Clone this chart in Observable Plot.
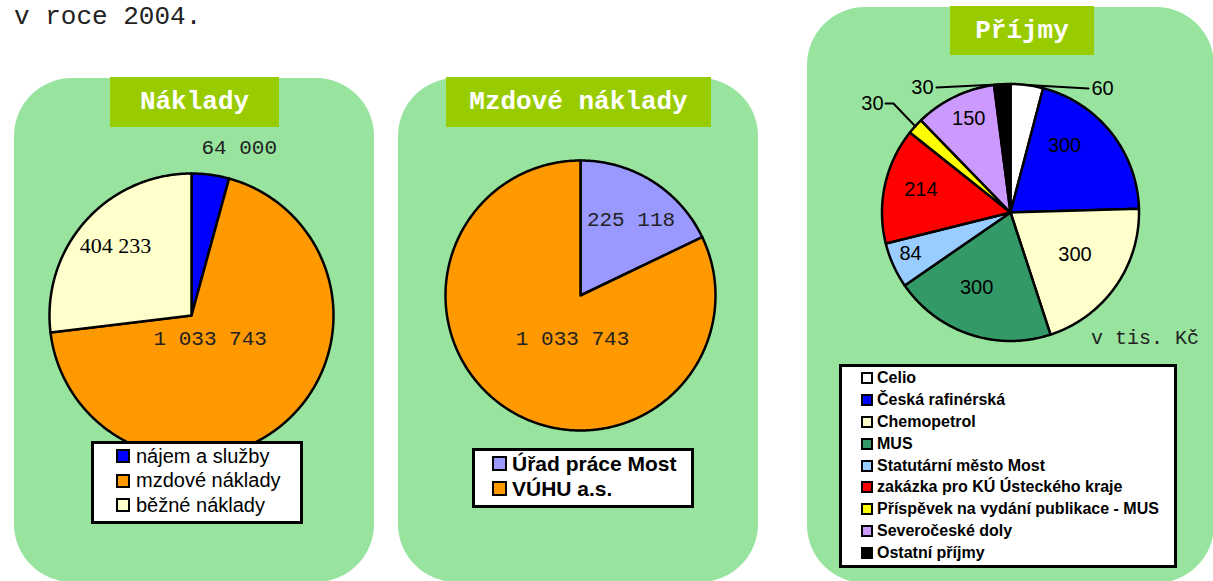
<!DOCTYPE html>
<html><head><meta charset="utf-8">
<script src="https://cdn.jsdelivr.net/npm/d3@7"></script>
<script src="https://cdn.jsdelivr.net/npm/@observablehq/plot@0.6"></script>
<style>
body{margin:0;background:#fff;}
#root{position:relative;width:1213px;height:581px;overflow:hidden;font-family:"Liberation Sans",Arial,sans-serif;}
.panel{position:absolute;background:#98E49F;border-radius:58px;}
.title{position:absolute;background:#99CC00;color:#fff;font:bold 26px "Liberation Mono",monospace;display:flex;align-items:center;justify-content:center;}
.legend{position:absolute;background:#fff;border:3px solid #000;box-sizing:border-box;color:#000;}
.legend .row{display:flex;align-items:center;white-space:nowrap;}
.sw{box-sizing:border-box;border:2px solid #000;flex:none;}
.pie{position:absolute;}
.note{position:absolute;font:20px "Liberation Mono",monospace;color:#222;white-space:pre;}
</style></head>
<body><div id="root"></div>
<script>
// ---------- data ----------
const introText = "v roce 2004.";
const unitNote = "v tis. Kč";

const nakladyTitle = "Náklady";
const nakladyCategories = ["nájem a služby", "mzdové náklady", "běžné náklady"];
const nakladyValues = [64000, 1033743, 404233];
const nakladyLabels = ["64 000", "1 033 743", "404 233"];
const nakladyColors = ["#0000FF", "#FF9900", "#FFFFCC"];

const mzdoveTitle = "Mzdové náklady";
const mzdoveCategories = ["Úřad práce Most", "VÚHU a.s."];
const mzdoveValues = [225118, 1033743];
const mzdoveLabels = ["225 118", "1 033 743"];
const mzdoveColors = ["#9999FF", "#FF9900"];

const prijmyTitle = "Příjmy";
const prijmyCategories = ["Celio", "Česká rafinérská", "Chemopetrol", "MUS", "Statutární město Most",
  "zakázka pro KÚ Ústeckého kraje", "Příspěvek na vydání publikace - MUS", "Severočeské doly", "Ostatní příjmy"];
const prijmyValues = [60, 300, 300, 300, 84, 214, 30, 150, 30];
const prijmyLabels = ["60", "300", "300", "300", "84", "214", "30", "150", "30"];
const prijmyColors = ["#FFFFFF", "#0000FF", "#FFFFCC", "#339966", "#99CCFF", "#FF0000", "#FFFF00", "#CC99FF", "#000000"];

// ---------- layout (label placement in radius units, not data) ----------
const nakladyPlace = [{k: 1.23, da: 8.2}, {k: 0.21, da: 2}, {k: 0.725, da: 0.8}];
const mzdovePlace = [{k: 0.676, da: 1.4}, {k: 0.324, da: -21.7}];
const prijmyPlace = [
  {out: {lx: 0.63, ly: 0.965, ex: 0.607, anchor: "start"}},
  {k: 0.67, da: -12.6}, {k: 0.6, da: -1.8}, {k: 0.64, da: 5.7}, {k: 0.84, da: 2}, {k: 0.72, da: 2},
  {out: {lx: -0.988, ly: 0.848, ex: -0.973, elbow: -0.911, anchor: "end"}},
  {k: 0.8, da: 1.8},
  {out: {lx: -0.599, ly: 0.973, ex: -0.576, anchor: "end"}}
];

const root = document.getElementById("root");
function el(cls, css, html) {
  const d = document.createElement("div");
  if (cls) d.className = cls;
  Object.assign(d.style, css);
  if (html != null) d.textContent = html;
  root.appendChild(d);
  return d;
}

function pie({cats, values, labels, colors, place, cx, cy, r, S, font, labelColor}) {
  const data = cats.map((c, i) => ({cat: c, value: values[i], label: labels[i], i}));
  const arcs = d3.pie().sort(null).value(d => d.value)(data);
  const pts = [];
  const txt = [];
  const leaders = [];
  arcs.forEach(a => {
    const c = a.data.cat;
    pts.push({cat: c, x: 0, y: 0});
    const n = Math.max(2, Math.ceil((a.endAngle - a.startAngle) / (Math.PI / 360)));
    for (let k = 0; k <= n; k++) {
      const t = a.startAngle + (a.endAngle - a.startAngle) * k / n;
      pts.push({cat: c, x: Math.sin(t), y: Math.cos(t)});
    }
    const p = place[a.data.i];
    const mid = (a.startAngle + a.endAngle) / 2;
    if (p.out) {
      const o = p.out;
      txt.push({x: o.lx, y: o.ly, text: a.data.label, anchor: o.anchor});
      leaders.push({cat: c, x: Math.sin(mid), y: Math.cos(mid)});
      if (o.elbow != null) leaders.push({cat: c, x: o.elbow, y: o.ly});
      leaders.push({cat: c, x: o.ex, y: o.ly});
    } else {
      const m = mid + p.da * Math.PI / 180;
      txt.push({x: p.k * Math.sin(m), y: p.k * Math.cos(m), text: a.data.label, anchor: "middle"});
    }
  });
  const lim = S / r;
  const marks = [
    Plot.line(pts, {x: "x", y: "y", z: "cat", fill: "cat", stroke: "#000", strokeWidth: 2.5,
      strokeLinejoin: "round", curve: "linear-closed"}),
    Plot.line(leaders, {x: "x", y: "y", z: "cat", stroke: "#000", strokeWidth: 2})
  ];
  for (const anchor of ["start", "middle", "end"]) {
    marks.push(Plot.text(txt.filter(d => d.anchor === anchor), {x: "x", y: "y", text: "text",
      textAnchor: anchor, fontFamily: font.family, fontSize: font.size, fill: labelColor}));
  }
  const svg = Plot.plot({
    width: 2 * S, height: 2 * S, margin: 0,
    style: {background: "transparent", overflow: "visible"},
    x: {domain: [-lim, lim], axis: null},
    y: {domain: [-lim, lim], axis: null},
    color: {domain: cats, range: colors},
    marks
  });
  const d = el("pie", {left: (cx - S) + "px", top: (cy - S) + "px", width: 2 * S + "px", height: 2 * S + "px"});
  d.appendChild(svg);
}

function legend({cats, colors, left, top, width, height, padLeft, rowH, sw, gap, font}) {
  const box = el("legend", {left: left + "px", top: top + "px", width: width + "px", height: height + "px",
    paddingLeft: padLeft + "px", font});
  cats.forEach((c, i) => {
    const row = document.createElement("div");
    row.className = "row";
    row.style.height = rowH + "px";
    const s = document.createElement("div");
    s.className = "sw";
    Object.assign(s.style, {width: sw + "px", height: sw + "px", background: colors[i], marginRight: gap + "px"});
    const t = document.createElement("span");
    t.textContent = c;
    row.appendChild(s); row.appendChild(t);
    box.appendChild(row);
  });
}

// intro text
el("note", {left: "14px", top: "2px", fontSize: "26px", lineHeight: "30px"}, introText);

// panels
el("panel", {left: "14px", top: "78px", width: "360px", height: "504px"});
el("panel", {left: "398px", top: "78px", width: "360px", height: "504px"});
el("panel", {left: "807px", top: "7px", width: "407px", height: "576px"});

// pies
pie({cats: nakladyCategories, values: nakladyValues, labels: nakladyLabels, colors: nakladyColors,
  place: nakladyPlace, cx: 191, cy: 315, r: 142, S: 180,
  font: {family: "Liberation Mono", size: 21}, labelColor: "#222"});
pie({cats: mzdoveCategories, values: mzdoveValues, labels: mzdoveLabels, colors: mzdoveColors,
  place: mzdovePlace, cx: 580, cy: 295, r: 135, S: 170,
  font: {family: "Liberation Mono", size: 21}, labelColor: "#222"});
pie({cats: prijmyCategories, values: prijmyValues, labels: prijmyLabels, colors: prijmyColors,
  place: prijmyPlace, cx: 1010, cy: 212, r: 128.5, S: 150,
  font: {family: "Liberation Sans", size: 20}, labelColor: "#000"});

// the "404 233" label is set in a serif face in the original
document.querySelectorAll(".pie")[0].querySelectorAll("text").forEach(t => {
  if (t.textContent === nakladyLabels[2]) { t.setAttribute("font-family", "Liberation Serif"); t.setAttribute("font-size", "22"); t.setAttribute("fill", "#000"); }
});

// titles
el("title", {left: "110px", top: "77px", width: "169px", height: "50px"}, nakladyTitle);
el("title", {left: "446px", top: "77px", width: "265px", height: "50px"}, mzdoveTitle);
el("title", {left: "950px", top: "6px", width: "144px", height: "49px"}, prijmyTitle);

// legends
legend({cats: nakladyCategories, colors: nakladyColors, left: 91, top: 441, width: 212, height: 83,
  padLeft: 22, rowH: 24.5, sw: 14, gap: 6, font: "20px 'Liberation Sans', Arial, sans-serif"});
legend({cats: mzdoveCategories, colors: mzdoveColors, left: 472, top: 448, width: 222, height: 60,
  padLeft: 17, rowH: 25, sw: 15, gap: 5, font: "bold 21px 'Liberation Sans', Arial, sans-serif"});
legend({cats: prijmyCategories, colors: prijmyColors, left: 839, top: 364, width: 338, height: 204,
  padLeft: 19, rowH: 21.9, sw: 12, gap: 4, font: "bold 16px 'Liberation Sans', Arial, sans-serif"});

// unit note
el("note", {left: "1091px", top: "329px", lineHeight: "20px"}, unitNote);
</script>
</body></html>
